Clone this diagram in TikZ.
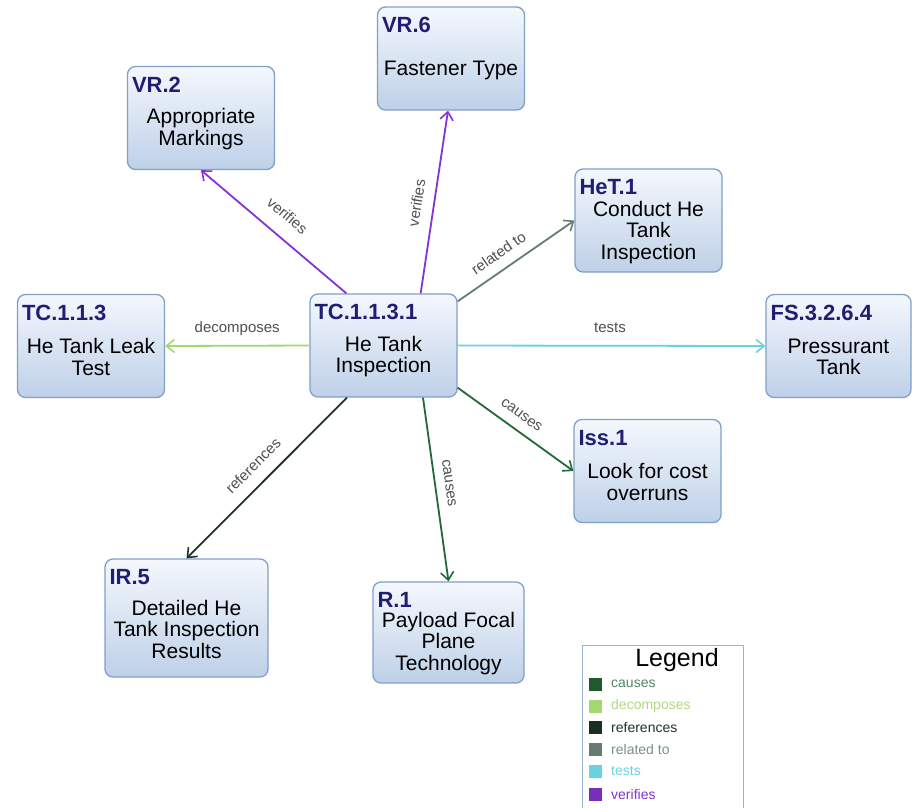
\documentclass[tikz,border=0pt]{standalone}
\usepackage{fontspec}
\setmainfont{Liberation Sans}
\usetikzlibrary{arrows.meta,calc}
\definecolor{boxborder}{RGB}{128,160,200}
\definecolor{boxtop}{RGB}{244,248,253}
\definecolor{boxbot}{RGB}{190,208,232}
\definecolor{titlecol}{RGB}{30,30,115}
\definecolor{ccauses}{RGB}{35,105,55}
\definecolor{cdecomp}{RGB}{165,215,115}
\definecolor{crefs}{RGB}{30,52,36}
\definecolor{crel}{RGB}{100,125,112}
\definecolor{ctests}{RGB}{105,210,225}
\definecolor{cverif}{RGB}{135,50,210}
\definecolor{labelcol}{RGB}{80,80,80}
\tikzset{
  reqbox/.style={draw=boxborder, line width=1.3pt, rounded corners=8pt,
    top color=boxtop, bottom color=boxbot, minimum width=147pt, minimum height=103pt, inner sep=0pt},
  titletext/.style={anchor=west, inner sep=0pt, text=titlecol, font=\fontsize{22}{22}\selectfont\bfseries},
  bodytext/.style={align=center, inner sep=0pt, font=\fontsize{21}{21.5}\selectfont},
  edge/.style={line width=1.8pt, -{Straight Barb[length=8pt,width=13pt,line width=1.6pt]}},
  elabel/.style={sloped, inner sep=0pt, text=labelcol, font=\fontsize{15}{15}\selectfont},
  legbox/.style={draw=boxborder!80, line width=1pt, fill=white, minimum width=161pt, minimum height=172pt, inner sep=0pt},
  swatch/.style={minimum size=13pt, inner sep=0pt},
  legtext/.style={anchor=west, inner sep=0pt, font=\fontsize{14}{14}\selectfont},
}
\begin{document}
\begin{tikzpicture}[x=1pt,y=-1pt]
\useasboundingbox (0,0) rectangle (912,807);
\clip (0,0) rectangle (912,807);
\fill[white] (0,0) rectangle (912,807);

% boxes
\node[reqbox] (vr6) at (451,58.5) {};
\node[reqbox] (vr2) at (201,118) {};
\node[reqbox] (het) at (648.5,220.5) {};
\node[reqbox] (tc3) at (91,346) {};
\node[reqbox] (c) at (383.5,345.5) {};
\node[reqbox, minimum width=145pt] (fs) at (838.5,346) {};
\node[reqbox] (iss) at (647.5,471) {};
\node[reqbox, minimum width=163pt, minimum height=118pt] (ir5) at (186.5,618) {};
\node[reqbox, minimum width=151pt, minimum height=101pt] (r1) at (448.5,632.5) {};

% titles
\node[titletext] (vr6t) at ($(vr6.north west)+(5,19)$) {VR.6};
\node[titletext] (vr2t) at ($(vr2.north west)+(5,19)$) {VR.2};
\node[titletext] (hett) at ($(het.north west)+(5,19)$) {HeT.1};
\node[titletext] (tc3t) at ($(tc3.north west)+(5,19)$) {TC.1.1.3};
\node[titletext] (ct) at ($(c.north west)+(5,19)$) {TC.1.1.3.1};
\node[titletext] (fst) at ($(fs.north west)+(5,19)$) {FS.3.2.6.4};
\node[titletext] (isst) at ($(iss.north west)+(5,19)$) {Iss.1};
\node[titletext] (ir5t) at ($(ir5.north west)+(5,19)$) {IR.5};
\node[titletext] (r1t) at ($(r1.north west)+(5,19)$) {R.1};

% bodies
\node[bodytext] (vr6b) at ($(vr6.center)+(0,12)$) {Fastener Type};
\node[bodytext] (vr2b) at ($(vr2.center)+(0,11)$) {Appropriate\\Markings};
\node[bodytext] (hetb) at ($(het.center)+(0,12)$) {Conduct He\\Tank\\Inspection};
\node[bodytext] (tc3b) at ($(tc3.center)+(0,11)$) {He Tank Leak\\Test};
\node[bodytext] (cb) at ($(c.center)+(0,11)$) {He Tank\\Inspection};
\node[bodytext] (fsb) at ($(fs.center)+(0,11)$) {Pressurant\\Tank};
\node[bodytext] (issb) at ($(iss.center)+(0,11)$) {Look for cost\\overruns};
\node[bodytext] (ir5b) at ($(ir5.center)+(0,11)$) {Detailed He\\Tank Inspection\\Results};
\node[bodytext] (r1b) at ($(r1.center)+(0,11)$) {Payload Focal\\Plane\\Technology};

% edges
\draw[edge, cverif] ($(c.north west)+(37,0)$) -- (vr2.south)
  node[elabel, pos=0.5, above=15pt] (l1) {verifies};
\draw[edge, cverif] ($(c.north east)+(-37,0)$) -- ($(vr6.south)+(-3,0)$)
  node[elabel, pos=0.48, above=11pt] (l2) {verifies};
\draw[edge, crel] ($(c.north east)+(0,8)$) -- (het.west)
  node[elabel, pos=0.43, above=10pt] (l3) {related to};
\draw[edge, cdecomp] (c.west) -- (tc3.east)
  node[elabel, pos=0.5, above=9pt] (l4) {decomposes};
\draw[edge, ctests] (c.east) -- (fs.west)
  node[elabel, pos=0.495, above=12pt] (l5) {tests};
\draw[edge, ccauses] ($(c.south east)+(0,-10)$) -- (iss.west)
  node[elabel, pos=0.477, above=10pt] (l6) {causes};
\draw[edge, ccauses] ($(c.south)+(39.5,0)$) -- (r1.north)
  node[elabel, pos=0.476, above=9pt] (l7) {causes};
\draw[edge, crefs] ($(c.south)+(-36.5,0)$) -- (ir5.north)
  node[elabel, pos=0.504, above=12pt] (l8) {references};

% legend
\node[legbox] (leg) at (663,731) {};
\node[inner sep=0pt, font=\fontsize{25}{25}\selectfont] (legt) at (677,660) {Legend};
\node[swatch, fill=ccauses!85!black] (s1) at (595.5,684) {};
\node[swatch, fill=cdecomp] (s2) at (595.5,706) {};
\node[swatch, fill=crefs!90!black] (s3) at (595.5,727.5) {};
\node[swatch, fill=crel] (s4) at (595.5,749) {};
\node[swatch, fill=ctests] (s5) at (595.5,771.5) {};
\node[swatch, fill=cverif!90!black] (s6) at (595.5,794) {};
\node[legtext, text=ccauses!80!white] (t1) at (611,684) {causes};
\node[legtext, text=cdecomp!90!white] (t2) at (611,706) {decomposes};
\node[legtext, text=crefs] (t3) at (611,727.5) {references};
\node[legtext, text=crel!85!white] (t4) at (611,749) {related to};
\node[legtext, text=ctests] (t5) at (611,771.5) {tests};
\node[legtext, text=cverif] (t6) at (611,794) {verifies};
\end{tikzpicture}
\end{document}
